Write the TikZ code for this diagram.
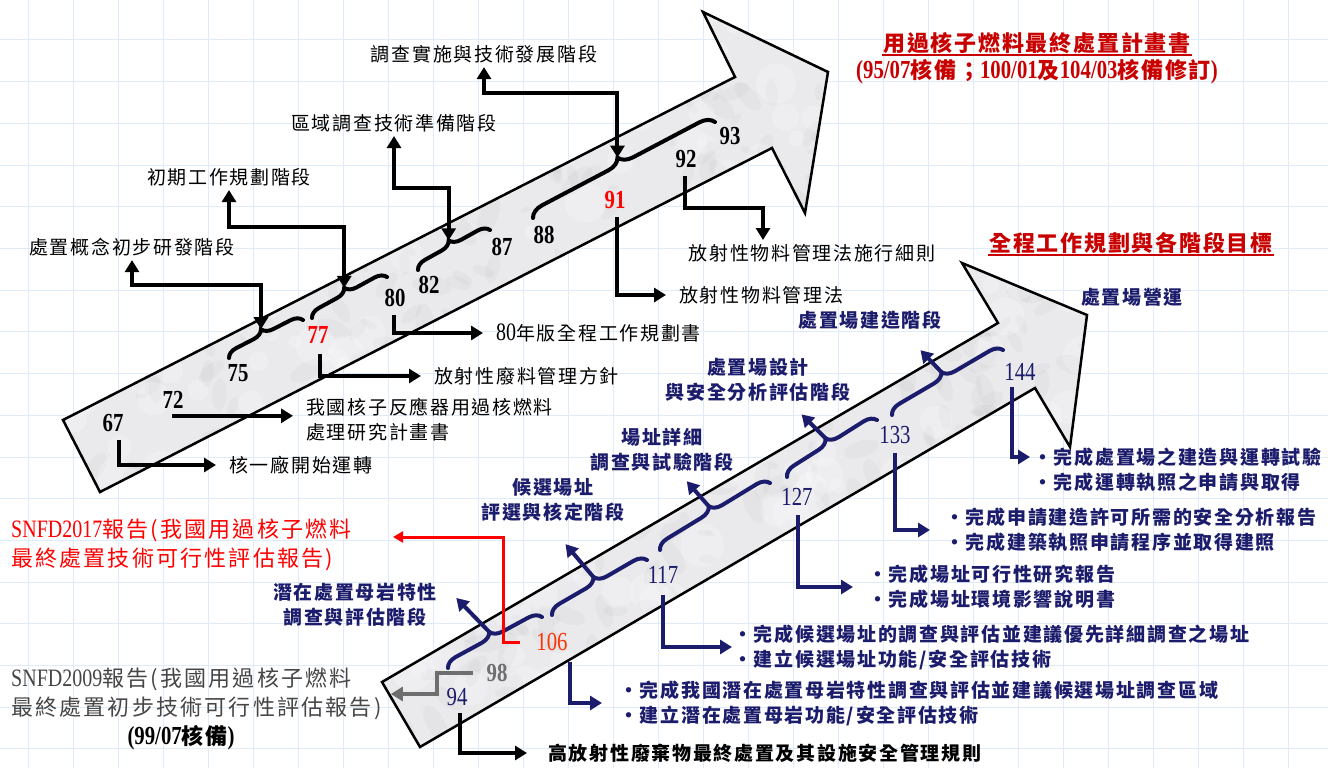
\documentclass[tikz,border=0pt]{standalone}
\usepackage{fontspec}
\usetikzlibrary{arrows.meta,decorations.pathreplacing,calc}
\newfontfamily\cjk{Noto Sans CJK TC}[LetterSpace=9]
\newfontfamily\cjkw{Noto Sans CJK TC}[LetterSpace=8]
\newfontfamily\cjks{Noto Sans CJK TC}[LetterSpace=10]
\newfontfamily\numf{Liberation Serif}[FakeStretch=0.8]
\newcommand\numbold{\numf\bfseries\fontsize{26}{26}\selectfont}
\newcommand\numreg{\numf\fontsize{25}{25}\selectfont}
\definecolor{navy}{RGB}{28,28,108}
\definecolor{tred}{RGB}{200,0,0}
\definecolor{gridc}{RGB}{222,236,250}
\definecolor{marble}{RGB}{234,234,237}
\definecolor{orred}{RGB}{255,50,0}
\definecolor{dgray}{RGB}{70,70,70}
\definecolor{mgray}{RGB}{110,110,110}
\begin{document}
\begin{tikzpicture}[x=1pt,y=-1pt,
  lab/.style={font=\cjk\fontsize{19}{25}\selectfont, inner sep=1pt, align=left},
  nlab/.style={font=\cjk\bfseries\fontsize{19}{25}\selectfont, text=navy, inner sep=1pt, align=center},
  blt/.style={font=\cjk\bfseries\fontsize{19}{25}\selectfont, text=navy, inner sep=0pt, align=left, anchor=west},
  unum/.style={font=\numf\bfseries\fontsize{26}{26}\selectfont, inner sep=1pt},
  lnum/.style={font=\numf\fontsize{26}{26}\selectfont, text=navy, inner sep=1pt},
  ttl/.style={font=\cjkw\bfseries\fontsize{22}{24}\selectfont, text=tred, inner sep=1pt},
  snfd/.style={font=\cjks\fontsize{22}{29}\selectfont, inner sep=1pt, align=left, anchor=west},
  endarrow/.style={-{Triangle[length=12pt,width=14pt]}},
  conn/.style={line width=4pt, endarrow},
  dconn/.style={line width=4pt, {Triangle[length=12pt,width=14pt]}-{Triangle[length=12pt,width=14pt]}},
  nconn/.style={conn, draw=navy},
  rconn/.style={line width=3pt, draw=red, -{Triangle[length=10pt,width=11pt]}},
  gconn/.style={line width=4pt, draw=mgray, -{Triangle[length=12pt,width=14pt]}},
  ubrace/.style={line width=4pt, line cap=round, decorate, decoration={brace, amplitude=11pt}},
  lbrace/.style={line width=4pt, line cap=round, draw=navy, decorate, decoration={brace, amplitude=12pt}},
  outline/.style={line width=2.5pt, line join=miter}
]
\useasboundingbox (0,0) rectangle (1328,768);
\fill[white] (0,0) rectangle (1328,768);
% grid
\foreach \gx in {28,73,...,1328} {\draw[gridc, line width=1pt] (\gx,0) -- (\gx,768);}
\foreach \gy in {40,81.7,...,768} {\draw[gridc, line width=1pt] (0,\gy) -- (1328,\gy);}

% ---------- upper arrow ----------
\coordinate (U1) at (63,420);
\coordinate (U2) at (735,77);
\coordinate (U3) at (703,12);
\coordinate (U4) at (828,72);
\coordinate (U5) at (805,213);
\coordinate (U6) at (772,148);
\coordinate (U7) at (100,492);
\pgfmathsetseed{12}
\begin{scope}
\clip (U1)--(U2)--(U3)--(U4)--(U5)--(U6)--(U7)--cycle;
\fill[marble] (40,0) rectangle (840,500);
\foreach \i in {1,...,420}{
  \pgfmathsetmacro{\bx}{50+790*rnd}
  \pgfmathsetmacro{\by}{5+495*rnd}
  \pgfmathsetmacro{\br}{5+16*rnd}
  \pgfmathsetmacro{\ba}{180*rnd}
  \fill[black, opacity=0.025, rotate around={\ba:(\bx,\by)}] (\bx,\by) ellipse[x radius=\br, y radius=0.45*\br];
}
\foreach \i in {1,...,160}{
  \pgfmathsetmacro{\bx}{50+790*rnd}
  \pgfmathsetmacro{\by}{5+495*rnd}
  \pgfmathsetmacro{\br}{6+16*rnd}
  \fill[white, opacity=0.22] (\bx,\by) circle[radius=\br];
}
\end{scope}
\draw[outline] (U1)--(U2)--(U3)--(U4)--(U5)--(U6)--(U7)--cycle;

% ---------- lower arrow ----------
\coordinate (L1) at (382,682);
\coordinate (L2) at (998,323);
\coordinate (L3) at (962,263);
\coordinate (L4) at (1087,315);
\coordinate (L5) at (1070,447);
\coordinate (L6) at (1035,388);
\coordinate (L7) at (420,747);
\begin{scope}
\clip (L1)--(L2)--(L3)--(L4)--(L5)--(L6)--(L7)--cycle;
\fill[marble] (360,250) rectangle (1100,760);
\foreach \i in {1,...,400}{
  \pgfmathsetmacro{\bx}{370+720*rnd}
  \pgfmathsetmacro{\by}{255+500*rnd}
  \pgfmathsetmacro{\br}{5+16*rnd}
  \pgfmathsetmacro{\ba}{180*rnd}
  \fill[black, opacity=0.025, rotate around={\ba:(\bx,\by)}] (\bx,\by) ellipse[x radius=\br, y radius=0.45*\br];
}
\foreach \i in {1,...,150}{
  \pgfmathsetmacro{\bx}{370+720*rnd}
  \pgfmathsetmacro{\by}{255+500*rnd}
  \pgfmathsetmacro{\br}{6+16*rnd}
  \fill[white, opacity=0.22] (\bx,\by) circle[radius=\br];
}
\end{scope}
\draw[outline] (L1)--(L2)--(L3)--(L4)--(L5)--(L6)--(L7)--cycle;

% ---------- titles ----------
\node[ttl] (T1) at (1037,43) {用過核子燃料最終處置計畫書};
\draw[tred, line width=1.5pt] (T1.south west) -- (T1.south east);
\node[ttl] (T2) at (1037,72) {{\numbold (95/07}核備；{\numbold 100/01}及{\numbold 104/03}核備修訂{\numbold )}};
\node[ttl] (T3) at (1131,243) {全程工作規劃與各階段目標};
\draw[tred, line width=1.5pt] (T3.south west) -- (T3.south east);

% ---------- upper braces ----------
\coordinate (a1) at (229,358); \coordinate (b1) at (303,320);
\coordinate (a2) at (312,318); \coordinate (b2) at (387,277);
\coordinate (a3) at (418,270); \coordinate (b3) at (490,230);
\coordinate (a4) at (533,218); \coordinate (b4) at (715,122);
\draw[ubrace] (a1) -- (b1);
\draw[ubrace] (a2) -- (b2);
\draw[ubrace] (a3) -- (b3);
\draw[ubrace, decoration={brace, amplitude=14pt}] (a4) -- (b4);
\coordinate (t1) at ($(a1)!0.5!(b1)!11pt!90:(b1)$);
\coordinate (t2) at ($(a2)!0.5!(b2)!11pt!90:(b2)$);
\coordinate (t3) at ($(a3)!0.5!(b3)!11pt!90:(b3)$);
\coordinate (t4) at ($(a4)!0.5!(b4)!14pt!90:(b4)$);

% upper stage labels
\node[lab] (l1) at (132,247) {處置概念初步研發階段};
\node[lab] (l2) at (229,177) {初期工作規劃階段};
\node[lab] (l3) at (394,123) {區域調查技術準備階段};
\node[lab] (l4) at (484,54) {調查實施與技術發展階段};
\draw[dconn, shorten <=3pt] (l1.south) |- (t1 |- 0,285) -- (t1);
\draw[dconn, shorten <=3pt] (l2.south) |- (t2 |- 0,227) -- (t2);
\draw[dconn, shorten <=3pt] (l3.south) |- (t3 |- 0,188) -- (t3);
\draw[dconn, shorten <=3pt] (l4.south) |- (t4 |- 0,93) -- (t4);

% upper numbers
\node[unum] (n67) at (113,423) {67};
\node[unum] (n72) at (173,400) {72};
\node[unum] (n75) at (238,373) {75};
\node[unum, text=red] (n77) at (318,335) {77};
\node[unum] (n80) at (395,298) {80};
\node[unum] (n82) at (429,285) {82};
\node[unum] (n87) at (502,247) {87};
\node[unum] (n88) at (544,235) {88};
\node[unum, text=red] (n91) at (615,200) {91};
\node[unum] (n92) at (686,159) {92};
\node[unum] (n93) at (730,136) {93};

% upper event labels
\node[lab, anchor=west] (k67) at (228,465) {核一廠開始運轉};
\node[lab, anchor=west] (k72) at (305,420) {我國核子反應器用過核燃料\\處理研究計畫書};
\node[lab, anchor=west] (k77) at (433,376) {放射性廢料管理方針};
\node[lab, anchor=west] (k80) at (495,333) {{\numreg 80}年版全程工作規劃書};
\node[lab, anchor=west] (k91) at (678,295) {放射性物料管理法};
\node[lab] (k92) at (812,253) {放射性物料管理法施行細則};

\draw[conn, shorten >=12pt] ($(n67.south)+(6,7)$) |- (k67.west);
\coordinate (c72) at ($(n72.south)+(-1,6)$);
\draw[conn, shorten >=12pt] (c72) -- (c72 -| k72.west);
\draw[conn, shorten >=12pt] ($(n77.south)+(2,9)$) |- (k77.west);
\draw[conn, shorten >=12pt] ($(n80.south)+(-1,7)$) |- (k80.west);
\draw[conn, shorten >=12pt] ($(n91.south)+(2,7)$) |- (k91.west);
\coordinate (e92) at (763,240);
\draw[conn] ($(n92.south)+(-1,7)$) |- (e92 |- 0,208) -- (e92);

% ---------- lower braces ----------
\coordinate (la) at (448,668); \coordinate (lb) at (542,617);
\coordinate (lc) at (552,615); \coordinate (ld) at (647,560);
\coordinate (le) at (660,550); \coordinate (lf) at (770,483);
\coordinate (lg) at (787,477); \coordinate (lh) at (877,420);
\coordinate (li) at (892,415); \coordinate (lj) at (1003,350);
\draw[lbrace] (la) -- (lb);
\draw[lbrace] (lc) -- (ld);
\draw[lbrace] (le) -- (lf);
\draw[lbrace] (lg) -- (lh);
\draw[lbrace] (li) -- (lj);
\coordinate (tA) at ($(la)!0.5!(lb)!12pt!90:(lb)$);
\coordinate (tB) at ($(lc)!0.5!(ld)!12pt!90:(ld)$);
\coordinate (tC) at ($(le)!0.5!(lf)!12pt!90:(lf)$);
\coordinate (tD) at ($(lg)!0.5!(lh)!12pt!90:(lh)$);
\coordinate (tE) at ($(li)!0.5!(lj)!12pt!90:(lj)$);
\coordinate (eA) at ($(tA)+(-33,-34)$);
\coordinate (eB) at ($(tB)+(-28,-33)$);
\coordinate (eC) at ($(tC)+(-22,-25)$);
\coordinate (eD) at ($(tD)+(-24,-24)$);
\coordinate (eE) at ($(tE)+(-21,-22)$);
\draw[nconn] (tA) -- (eA);
\draw[nconn] (tB) -- (eB);
\draw[nconn] (tC) -- (eC);
\draw[nconn] (tD) -- (eD);
\draw[nconn] (tE) -- (eE);

% lower stage labels
\node[nlab] (pA) at (355,605) {潛在處置母岩特性\\調查與評估階段};
\node[nlab] (pB) at (553,500) {候選場址\\評選與核定階段};
\node[nlab] (pC) at (662,450) {場址詳細\\調查與試驗階段};
\node[nlab] (pD) at (758,380) {處置場設計\\與安全分析評估階段};
\node[nlab] (pE) at (870,320) {處置場建造階段};
\node[nlab] (pF) at (1132,297) {處置場營運};

% lower numbers
\node[lnum] (n94) at (457,697) {94};
\node[unum, text=mgray] (n98) at (497,673) {98};
\node[lnum, text=orred] (n106) at (552,642) {106};
\node[lnum] (n117) at (663,575) {117};
\node[lnum] (n127) at (797,497) {127};
\node[lnum] (n133) at (895,435) {133};
\node[lnum] (n144) at (1020,372) {144};

% bullets
\node[blt] (b144) at (1033,470) {・完成處置場之建造與運轉試驗\\・完成運轉執照之申請與取得};
\node[blt] (b133) at (945,530) {・完成申請建造許可所需的安全分析報告\\・完成建築執照申請程序並取得建照};
\node[blt] (b127) at (868,587) {・完成場址可行性研究報告\\・完成場址環境影響說明書};
\node[blt] (b117) at (733,647) {・完成候選場址的調查與評估並建議優先詳細調查之場址\\・建立候選場址功能/安全評估技術};
\node[blt] (b106) at (619,703) {・完成我國潛在處置母岩特性調查與評估並建議候選場址調查區域\\・建立潛在處置母岩功能/安全評估技術};
\node[lab, font=\cjk\bfseries\fontsize{19}{25}\selectfont, anchor=west] (b94) at (547,753) {高放射性廢棄物最終處置及其設施安全管理規則};

\draw[nconn, shorten >=3pt] ($(n144.south)+(-8,5)$) |- ($(b144.west)+(0,-13)$);
\draw[nconn, shorten >=15pt] ($(n133.south)+(0,8)$) |- (b133.west);
\draw[nconn, shorten >=15pt] ($(n127.south)+(1,8)$) |- (b127.west);
\draw[nconn, shorten >=1pt] ($(n117.south)+(0,10)$) |- (b117.west);
\draw[nconn, shorten >=17pt] ($(n106.south)+(18,10)$) |- (b106.west);
\draw[conn, shorten >=20pt] ($(n94.south)+(3,6)$) |- (b94.west);

% ---------- SNFD reports ----------
\node[snfd, text=red] (s17) at (10,545) {{\numreg SNFD2017}報告(我國用過核子燃料\\最終處置技術可行性評估報告)};
\node[snfd, text=dgray] (s09) at (10,694) {{\numreg SNFD2009}報告(我國用過核子燃料\\最終處置初步技術可行性評估報告)};
\node[font=\cjkw\bfseries\fontsize{22}{24}\selectfont, inner sep=1pt] (s09b) at (181,738) {{\numbold (99/07}核備{\numbold )}};

\coordinate (s17a) at (393,537);
\draw[rconn] ($(n106.west)+(-15,0)$) -- ++(-17,0) |- (s17a);
\draw[gconn, shorten >=8pt] ($(n98.west)+(-12,0)$) -- ++(-36,0) |- (s09.east);
\end{tikzpicture}
\end{document}
